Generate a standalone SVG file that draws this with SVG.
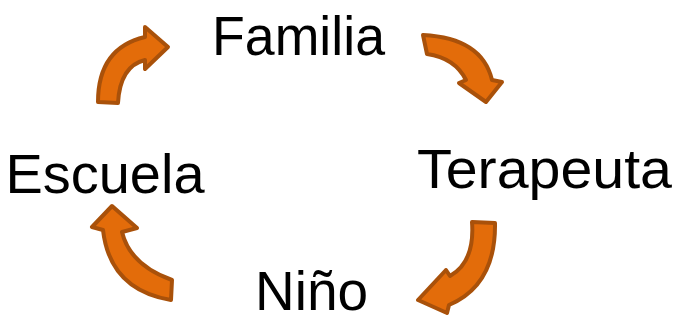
<svg xmlns="http://www.w3.org/2000/svg" width="678" height="322" viewBox="0 0 678 322">
<style>
.lbl{font-family:"Liberation Sans",Arial,sans-serif;font-size:55px;fill:#000;text-anchor:middle}
.arr{fill:#E36C0A;stroke:#A9510A;stroke-width:4;stroke-linejoin:round}
</style>
<rect width="678" height="322" fill="#fff"/>
<g id="familia"><text class="lbl" x="298.5" y="55" textLength="173" lengthAdjust="spacingAndGlyphs">Familia</text></g>
<g id="terapeuta"><text class="lbl" x="544.5" y="188" textLength="255" lengthAdjust="spacingAndGlyphs">Terapeuta</text></g>
<g id="nino"><text class="lbl" x="311.5" y="310" font-size="52" textLength="113" lengthAdjust="spacingAndGlyphs">Niño</text></g>
<g id="escuela"><text class="lbl" x="105" y="193" textLength="199" lengthAdjust="spacingAndGlyphs">Escuela</text></g>
<g id="connectors">
<path class="arr" d="M98,102 Q98,48 145,37 L145,27 L168,47 L145,69 L145,60 Q120,66 118,103 Z"/>
<path class="arr" d="M423,35 Q482,38 492,80 L502,82 L486,102 L459,83 L466,80 Q455,58 427,54 Z"/>
<path class="arr" d="M472,222 Q475,262 450,276 L446,270 L418,300 L447,313 L449,305 Q496,285 495,223 Z"/>
<path class="arr" d="M172,280 Q130,265 122,232 L137,228 L112,206 L92,227 L103,230 Q110,290 171,300 Z"/>
</g>
</svg>
